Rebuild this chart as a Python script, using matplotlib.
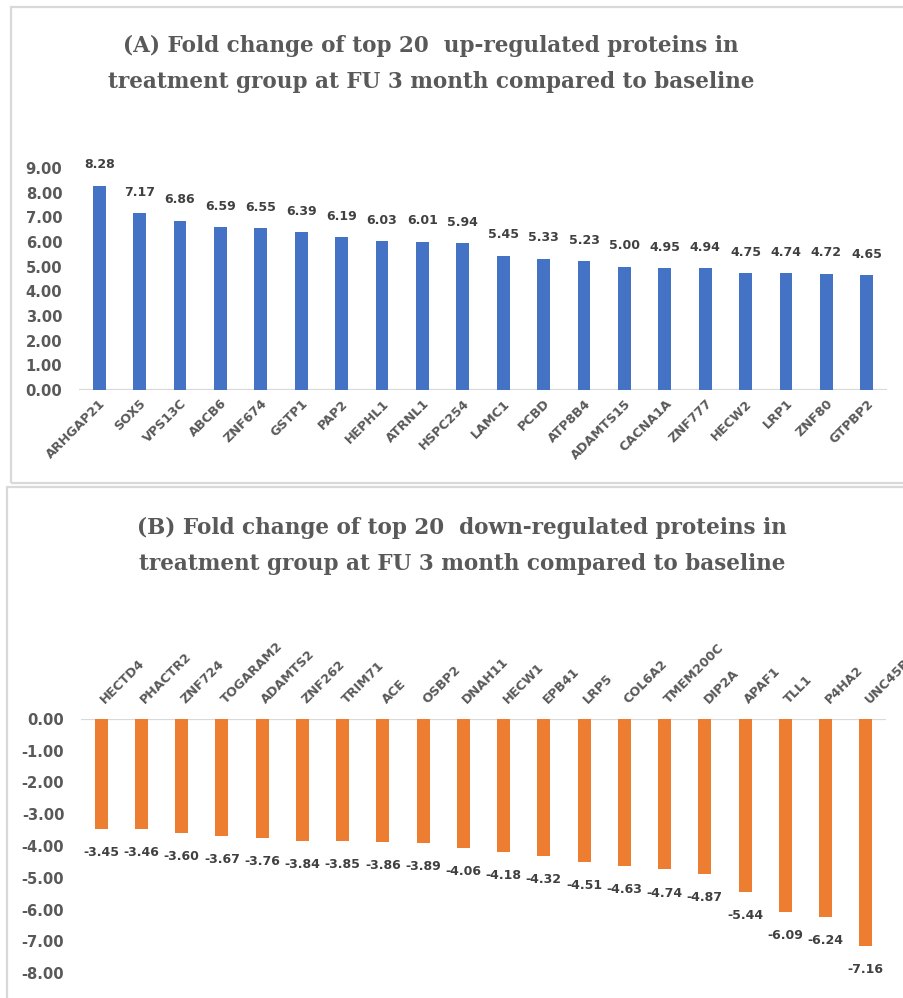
import matplotlib
matplotlib.use("Agg")
import matplotlib.pyplot as plt
from matplotlib.patches import Rectangle
from matplotlib.transforms import ScaledTranslation

# Top 20 up-regulated proteins (fold change)
up_proteins = ["ARHGAP21", "SOX5", "VPS13C", "ABCB6", "ZNF674", "GSTP1", "PAP2",
               "HEPHL1", "ATRNL1", "HSPC254", "LAMC1", "PCBD", "ATP8B4", "ADAMTS15",
               "CACNA1A", "ZNF777", "HECW2", "LRP1", "ZNF80", "GTPBP2"]
up_values = [8.28, 7.17, 6.86, 6.59, 6.55, 6.39, 6.19, 6.03, 6.01, 5.94,
             5.45, 5.33, 5.23, 5.00, 4.95, 4.94, 4.75, 4.74, 4.72, 4.65]

# Top 20 down-regulated proteins (fold change)
down_proteins = ["HECTD4", "PHACTR2", "ZNF724", "TOGARAM2", "ADAMTS2", "ZNF262", "TRIM71",
                 "ACE", "OSBP2", "DNAH11", "HECW1", "EPB41", "LRP5", "COL6A2",
                 "TMEM200C", "DIP2A", "APAF1", "TLL1", "P4HA2", "UNC45B"]
down_values = [-3.45, -3.46, -3.60, -3.67, -3.76, -3.84, -3.85, -3.86, -3.89, -4.06,
               -4.18, -4.32, -4.51, -4.63, -4.74, -4.87, -5.44, -6.09, -6.24, -7.16]

up_ticks = [0, 1, 2, 3, 4, 5, 6, 7, 8, 9]
down_ticks = [0, -1, -2, -3, -4, -5, -6, -7, -8]

title_a = "(A) Fold change of top 20  up-regulated proteins in\ntreatment group at FU 3 month compared to baseline"
title_b = "(B) Fold change of top 20  down-regulated proteins in\ntreatment group at FU 3 month compared to baseline"

BLUE = "#4472C4"
ORANGE = "#ED7D31"
AXIS_TXT = "#595959"
LABEL_TXT = "#404040"
GRID = "#D9D9D9"

W, H = 904, 998
fig = plt.figure(figsize=(W / 100, H / 100), dpi=100)
fig.patch.set_facecolor("white")


def px_rect(x0, y0, x1, y1):
    """Axes rectangle from pixel coordinates (origin top-left)."""
    return [x0 / W, 1 - y1 / H, (x1 - x0) / W, (y1 - y0) / H]


# chart frames
fig.patches.append(Rectangle((11 / W, 1 - 483 / H), (W + 20 - 11) / W, (483 - 7) / H,
                             transform=fig.transFigure, fill=False, ec=GRID, lw=1.6))
fig.patches.append(Rectangle((7 / W, 1 - (H + 20) / H), (W + 20 - 7) / W, (H + 20 - 487) / H,
                             transform=fig.transFigure, fill=False, ec=GRID, lw=1.6))

serif = dict(family="DejaVu Serif", weight="bold", color=AXIS_TXT, fontsize=15.5,
             linespacing=1.8)
fig.text(431 / W, 1 - 64 / H, title_a, ha="center", va="center", **serif)
fig.text(462 / W, 1 - 546 / H, title_b, ha="center", va="center", **serif)


def style_axes(ax):
    for s in ax.spines.values():
        s.set_visible(False)
    ax.tick_params(axis="both", length=0)
    ax.set_facecolor("none")
    for lbl in ax.get_yticklabels():
        lbl.set_fontweight("bold")
        lbl.set_color(AXIS_TXT)
        lbl.set_fontsize(10.6)


# ---- (A) up-regulated ----
axA = fig.add_axes(px_rect(79, 168, 887, 390))
xa = list(range(len(up_proteins)))
axA.bar(xa, up_values, width=0.32, color=BLUE, zorder=2)
axA.set_xlim(-0.5, len(up_proteins) - 0.5)
axA.set_ylim(0, 9)
axA.set_yticks(up_ticks)
axA.set_yticklabels([f"{t:.2f}" for t in up_ticks])
axA.axhline(0, color=GRID, lw=1.6, zorder=1)
axA.set_xticks(xa)
axA.set_xticklabels(up_proteins, rotation=45, ha="right", va="top",
                    rotation_mode="anchor", fontsize=9.2, fontweight="bold",
                    color=AXIS_TXT)
style_axes(axA)
axA.tick_params(axis="x", pad=5)
axA.tick_params(axis="y", pad=12)
for x, v in zip(xa, up_values):
    axA.annotate(f"{v:.2f}", (x, v), xytext=(0, 15), textcoords="offset points",
                 ha="center", va="center", fontsize=9, fontweight="bold", color=LABEL_TXT)

# ---- (B) down-regulated ----
axB = fig.add_axes(px_rect(81, 719, 886, 973))
xb = list(range(len(down_proteins)))
axB.bar(xb, down_values, width=0.32, color=ORANGE, zorder=2)
axB.set_xlim(-0.5, len(down_proteins) - 0.5)
axB.set_ylim(-8, 0)
axB.set_yticks(down_ticks)
axB.set_yticklabels([f"{t:.2f}" for t in down_ticks])
axB.axhline(0, color=GRID, lw=1.6, zorder=1)
axB.xaxis.tick_top()
axB.set_xticks(xb)
axB.set_xticklabels(down_proteins, rotation=45, ha="left", va="bottom",
                    rotation_mode="anchor", fontsize=9.2, fontweight="bold",
                    color=AXIS_TXT)
style_axes(axB)
axB.tick_params(axis="x", pad=9)
axB.tick_params(axis="y", pad=12)
for lbl in axB.get_xticklabels():
    lbl.set_transform(lbl.get_transform() + ScaledTranslation(6 / 100, 0, fig.dpi_scale_trans))
for x, v in zip(xb, down_values):
    axB.annotate(f"{v:.2f}", (x, v), xytext=(0, -17), textcoords="offset points",
                 ha="center", va="center", fontsize=9, fontweight="bold", color=LABEL_TXT)

fig.savefig("out.png", dpi=100, facecolor="white")
